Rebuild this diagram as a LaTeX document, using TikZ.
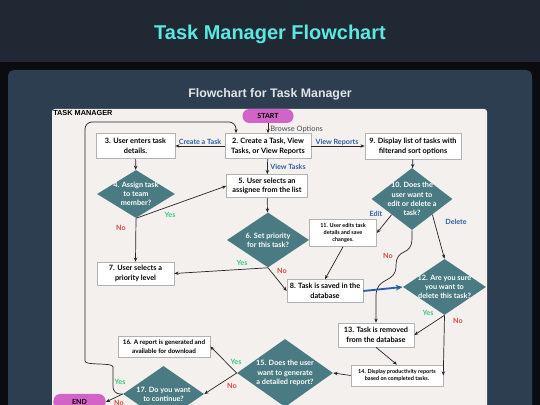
\documentclass[tikz,border=0pt]{standalone}
\usepackage{fontspec}
\setmainfont{Liberation Sans}
\newfontfamily\chartfont{Lato}
\usetikzlibrary{positioning,arrows.meta,shapes.geometric}

\definecolor{bannerbg}{HTML}{1F2833}
\definecolor{pagebg}{HTML}{0B0C10}
\definecolor{panelbg}{HTML}{2C3E50}
\definecolor{canvasbg}{HTML}{F3F0EE}
\definecolor{titlecyan}{HTML}{5CE8E0}
\definecolor{subtitlegray}{HTML}{E2E4E6}
\definecolor{deciteal}{HTML}{4A7B82}
\definecolor{termpink}{HTML}{D264C8}
\definecolor{optblue}{HTML}{2D5CA6}
\definecolor{yesgreen}{HTML}{3CC47C}
\definecolor{nored}{HTML}{E0453F}

\tikzset{
  stepbox/.style={rectangle,draw=gray!60,fill=white,align=center,inner sep=0pt,
    font=\chartfont\bfseries\fontsize{5.2}{7}\selectfont},
  smallbox/.style={stepbox,font=\chartfont\bfseries\fontsize{3.9}{5.3}\selectfont},
  decision/.style={diamond,fill=deciteal,text=white,align=center,inner sep=-3pt,aspect=1.5,
    font=\chartfont\bfseries\fontsize{5.2}{6.5}\selectfont},
  terminal/.style={rectangle,rounded corners=0.17cm,fill=termpink,inner sep=0pt,
    font=\chartfont\bfseries\fontsize{5}{6}\selectfont},
  flow/.style={-{Stealth[length=3pt,width=2.4pt]},draw=black!85,line width=0.5pt},
  lbl/.style={font=\chartfont\bfseries\fontsize{5.1}{6}\selectfont,inner sep=0pt},
  optlbl/.style={lbl,text=optblue},
  yeslbl/.style={lbl,text=yesgreen},
  nolbl/.style={lbl,text=nored},
}

\begin{document}
\begin{tikzpicture}[x=0.025cm,y=-0.025cm]

  \useasboundingbox (0,0) rectangle (540,405);

  %% page, banner and panel
  \fill[pagebg] (0,0) rectangle (540,405);
  \fill[bannerbg] (0,0) rectangle (540,62);
  \fill[panelbg,rounded corners=4pt] (8,70) rectangle (532,430);
  \fill[canvasbg,rounded corners=2pt] (52,109) rectangle (487,430);

  \node (title) [text=titlecyan,font=\bfseries\fontsize{14.2}{17}\selectfont] at(270,34) {Task Manager Flowchart};
  \node (subtitle) [text=subtitlegray,font=\bfseries\fontsize{8.8}{10}\selectfont] at(270,94) {Flowchart for Task Manager};
  \node (canvas_title) [anchor=west,inner sep=0pt,font=\bfseries\fontsize{5.2}{6}\selectfont] at(53,112.5) {TASK MANAGER};

  %% steps and decisions
  \node (start) [terminal,minimum width=1.275cm,minimum height=0.35cm] at(268,116) {START};
  \node (step_2) [stepbox,minimum width=2.15cm,minimum height=0.625cm] at(268,146) {2. Create a Task, View\\Tasks, or View Reports};
  \node (step_3) [stepbox,minimum width=1.975cm,minimum height=0.625cm] at(135.5,146) {3. User enters task\\details.};
  \node (step_9) [stepbox,minimum width=2.4cm,minimum height=0.65cm] at(413,146) {9. Display list of tasks with\\filterand sort options};
  \node (dec_4) [decision,aspect=1.6,minimum width=1.95cm,minimum height=1.2cm] at(136,194) {4. Assign task\\to team\\member?};
  \node (step_5) [stepbox,minimum width=2.025cm,minimum height=0.575cm] at(267,186) {5. User selects an\\assignee from the list};
  \node (dec_6) [decision,minimum width=2.05cm,minimum height=1.375cm] at(268,240) {6. Set priority\\for this task?};
  \node (dec_10) [decision,aspect=1.3,minimum width=2.025cm,minimum height=1.55cm] at(412,199) {10. Does the\\user want to\\edit or delete a\\task?};
  \node (step_11) [smallbox,minimum width=1.675cm,minimum height=0.675cm] at(343,233) {11. User edits task\\details and save\\changes.};
  \node (step_7) [stepbox,minimum width=1.925cm,minimum height=0.575cm] at(135.5,273.5) {7. User selects a\\priority level};
  \node (step_8) [stepbox,minimum width=1.9cm,minimum height=0.575cm] at(325,291) {8. Task is saved in the\\database};
  \node (dec_12) [decision,minimum width=2.075cm,minimum height=1.4cm] at(444.5,287) {12. Are you sure\\you want to\\delete this task?};
  \node (step_13) [stepbox,minimum width=1.9cm,minimum height=0.6cm] at(376,335) {13. Task is removed\\from the database};
  \node (step_14) [smallbox,minimum width=2.3cm,minimum height=0.525cm] at(397,375.5) {14. Display productivity reports\\based on completed tasks.};
  \node (dec_15) [decision,aspect=1.4,minimum width=2.4cm,minimum height=1.7cm] at(285,373) {15. Does the user\\want to generate\\a detailed report?};
  \node (step_16) [stepbox,minimum width=2.3cm,minimum height=0.525cm,font=\chartfont\bfseries\fontsize{4.5}{6.3}\selectfont] at(164,346.5) {16. A report is generated and\\available for download};
  \node (dec_17) [decision,minimum width=2.025cm,minimum height=1.4cm] at(163.5,394) {17. Do you want\\to continue?};
  \node (end) [terminal,minimum width=1.3cm,minimum height=0.4cm] at(79.5,402) {END};

  %% connectors
  \draw[flow] (start) -- (step_2);
  \draw[flow] (step_2) -- (step_3);
  \draw[flow] (step_2) -- (step_9);
  \draw[flow] (step_2) -- (step_5);
  \draw[flow] (step_3) -- (dec_4);
  \draw[flow] (dec_4.south) -- (step_5.west);
  \draw[flow] (dec_4.south) -- (step_7.north);
  \draw[flow] (step_5) -- (dec_6);
  \draw[flow] (dec_6.south) -- (step_7.east);
  \draw[flow] (dec_6.south) -- (step_8.west);
  \draw[flow] (step_9) -- (dec_10);
  \draw[flow] (dec_10.south west) -- (step_11.east);
  \draw[flow] (dec_10.south east) -- (dec_12.north);
  \draw[flow] (dec_10.south) -- (412,238) .. controls (412,258) and (396,246) .. (396,266)
     .. controls (396,284) and (376,276) .. (376,296) -- (step_13.north);
  \draw[flow] (step_11.south) -- (step_8.north);
  \draw[-{Stealth[length=5pt,width=4pt]},draw=optblue,line width=1.3pt] (step_8.east) -- (dec_12.west);
  \draw[flow] (dec_12.south) -- (step_13.east);
  \draw[flow] (dec_12.south) -- (step_14.east);
  \draw[flow] (step_13.south) -- (step_14.north);
  \draw[flow] (step_14.west) -- (dec_15.east);
  \draw[flow] (dec_15.west) -- (step_16.east);
  \draw[flow] (dec_15.west) -- (dec_17.east);
  \draw[flow] (dec_17.west) -- (end.east);

  %% back to the start of the menu
  \coordinate (loop_a) at (113,394);
  \coordinate (loop_b) at (113,374);
  \coordinate (loop_c) at (85,354);
  \coordinate (loop_d) at (85,122);
  \coordinate (loop_e) at (236,122);
  \draw[flow,rounded corners=5pt] (dec_17.west) -- (loop_a) -- (loop_b)
     .. controls (113,362) and (85,366) .. (loop_c) -- (loop_d) -- (loop_e) -- (loop_e |- step_2.north);

  %% labels
  \node (lbl_browse) [anchor=west,inner sep=0pt,text=black!70,font=\chartfont\fontsize{5.3}{6}\selectfont] at(270,129) {Browse Options};
  \node (lbl_create) [optlbl] at(200,142) {Create a Task};
  \node (lbl_reports) [optlbl] at(337,142) {View Reports};
  \node (lbl_tasks) [optlbl,anchor=west] at(270,167) {View Tasks};
  \node (lbl_yes_4) [yeslbl] at(170,215) {Yes};
  \node (lbl_no_4) [nolbl] at(121,228) {No};
  \node (lbl_yes_6) [yeslbl] at(242,263) {Yes};
  \node (lbl_no_6) [nolbl] at(282,271) {No};
  \node (lbl_edit) [optlbl] at(376,214) {Edit};
  \node (lbl_delete) [optlbl] at(456,222) {Delete};
  \node (lbl_no_10) [nolbl] at(388,256) {No};
  \node (lbl_yes_12) [yeslbl] at(428,313) {Yes};
  \node (lbl_no_12) [nolbl] at(458,321) {No};
  \node (lbl_yes_15) [yeslbl] at(236,362) {Yes};
  \node (lbl_no_15) [nolbl] at(232,386) {No};
  \node (lbl_yes_17) [yeslbl] at(120,382) {Yes};
  \node (lbl_no_17) [nolbl] at(119,403) {No};

\end{tikzpicture}
\end{document}
